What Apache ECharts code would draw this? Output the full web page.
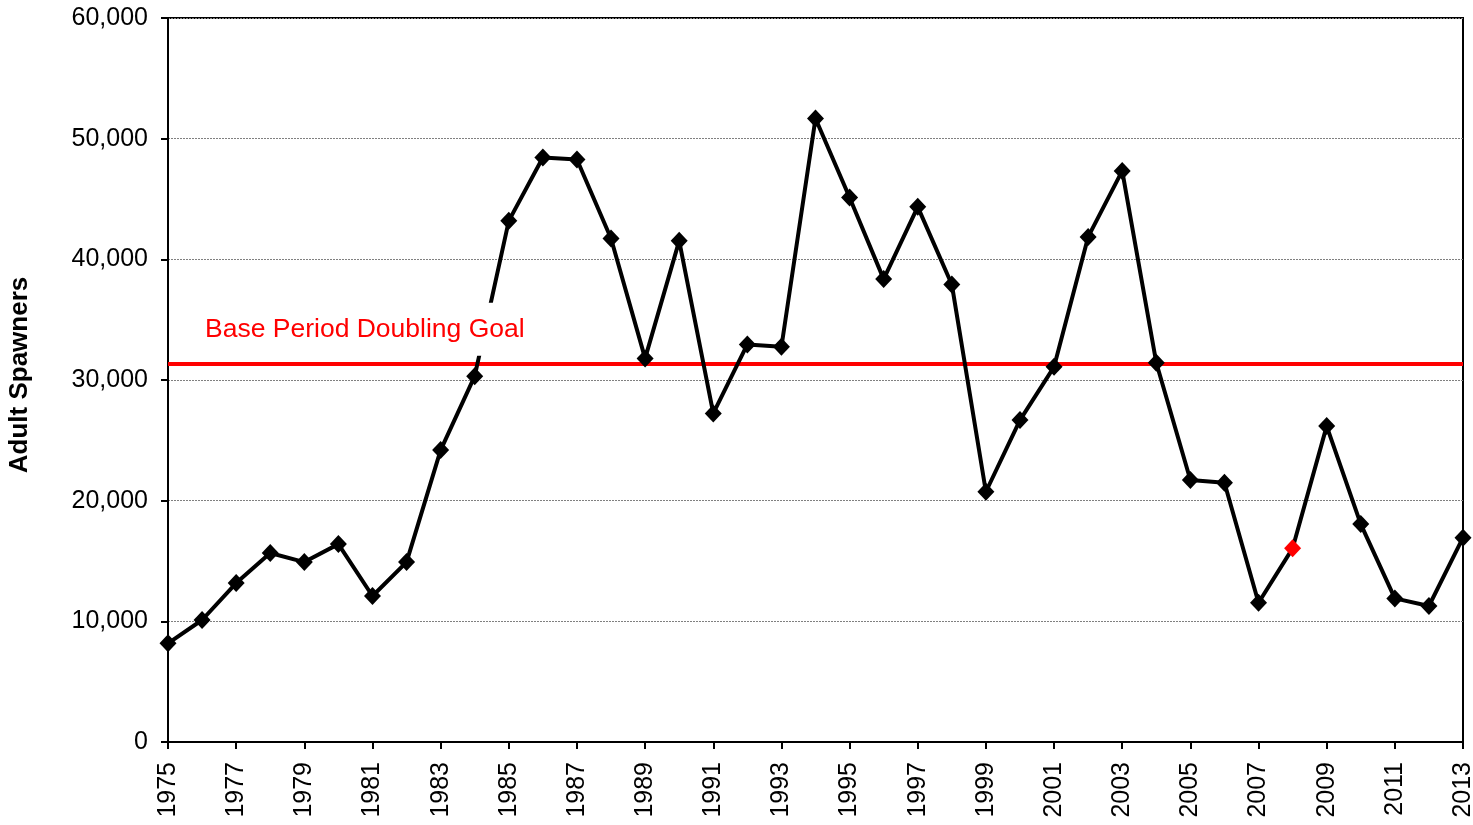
<!DOCTYPE html>
<html>
<head>
<meta charset="utf-8">
<script src="https://cdn.jsdelivr.net/npm/echarts@6/dist/echarts.min.js"></script>
<style>
  html, body { margin: 0; padding: 0; background: #fff; }
  #chart { width: 1473px; height: 825px; }
</style>
</head>
<body>
<div id="chart"></div>
<script>
// years along the bottom
const years = [];
for (let y = 1975; y <= 2013; y++) years.push(String(y));

// adult spawners per year
const spawners = [
  8180, 10110, 13170, 15660, 14910, 16400, 12100, 14910, 24190, 30320,
  43190, 48440, 48280, 41730, 31790, 41530, 27230, 32950, 32750, 51670,
  45130, 38360, 44350, 37920, 20740, 26680, 31090, 41860, 47330, 31430,
  21710, 21480, 11540, 16050, 26180, 18060, 11900, 11270, 16930
];
const highlightYear = '2008'; // the one red marker

const goalValue = 31350;
const goalLabel = 'Base Period Doubling Goal';

const yTicks = { min: 0, max: 60000, interval: 10000 };

const FONT = '"Liberation Sans", Arial, sans-serif';

const chart = echarts.init(document.getElementById('chart'), null, { renderer: 'canvas' });

const lineData = spawners.map((v, i) => years[i] === highlightYear
  ? { value: v, itemStyle: { color: '#ff0000' } }
  : v);

chart.setOption({
  animation: false,
  textStyle: { fontFamily: FONT },
  grid: {
    left: 168, right: 10, top: 18, bottom: 83,
    outerBoundsMode: 'none',
    containLabel: false,
    show: true, borderColor: '#000', borderWidth: 2, backgroundColor: 'transparent'
  },
  xAxis: {
    type: 'category',
    data: years,
    boundaryGap: false,
    axisLine: { lineStyle: { color: '#000', width: 2 } },
    axisTick: { interval: 1, length: 7, lineStyle: { color: '#000', width: 2 } },
    axisLabel: { interval: 1, rotate: 90, fontSize: 25, color: '#000', margin: 20, fontFamily: FONT },
    splitLine: { show: false }
  },
  yAxis: {
    type: 'value',
    min: yTicks.min, max: yTicks.max, interval: yTicks.interval,
    name: 'Adult Spawners',
    nameLocation: 'middle',
    nameRotate: 90,
    nameGap: 135,
    nameTextStyle: { fontSize: 26, fontWeight: 'bold', color: '#000', fontFamily: FONT, padding: [0, 0, 0, 10] },
    axisLine: { show: true, lineStyle: { color: '#000', width: 2 } },
    axisTick: { show: true, length: 7, lineStyle: { color: '#000', width: 2 } },
    axisLabel: {
      fontSize: 25, color: '#000', margin: 20, fontFamily: FONT,
      formatter: v => v.toLocaleString('en-US')
    },
    splitLine: { show: true, lineStyle: { color: '#808080', width: 1, type: [2, 1] } }
  },
  series: [
    {
      // red goal line, drawn under the data line
      type: 'line', data: [], silent: true,
      markLine: {
        z: 1, silent: true, symbol: ['none', 'none'],
        lineStyle: { color: '#ff0000', width: 4, type: 'solid' },
        label: { show: false },
        data: [{ yAxis: goalValue }]
      }
    },
    {
      type: 'line',
      z: 3,
      data: lineData,
      symbol: 'diamond',
      symbolSize: [17, 18],
      showAllSymbol: true,
      lineStyle: { color: '#000', width: 4 },
      itemStyle: { color: '#000' }
    },
    {
      // goal label, sits on a white box above the data line
      type: 'line', data: [], silent: true,
      markLine: {
        z: 10, silent: true, symbol: ['none', 'none'],
        lineStyle: { color: 'rgba(0,0,0,0)', width: 0 },
        label: {
          show: true,
          position: 'insideStartTop',
          distance: [31, 8],
          formatter: goalLabel,
          color: '#ff0000',
          fontSize: 26.5,
          fontFamily: FONT,
          backgroundColor: '#fff',
          padding: [13, 6]
        },
        data: [{ yAxis: goalValue }]
      }
    }
  ]
});
</script>
</body>
</html>
